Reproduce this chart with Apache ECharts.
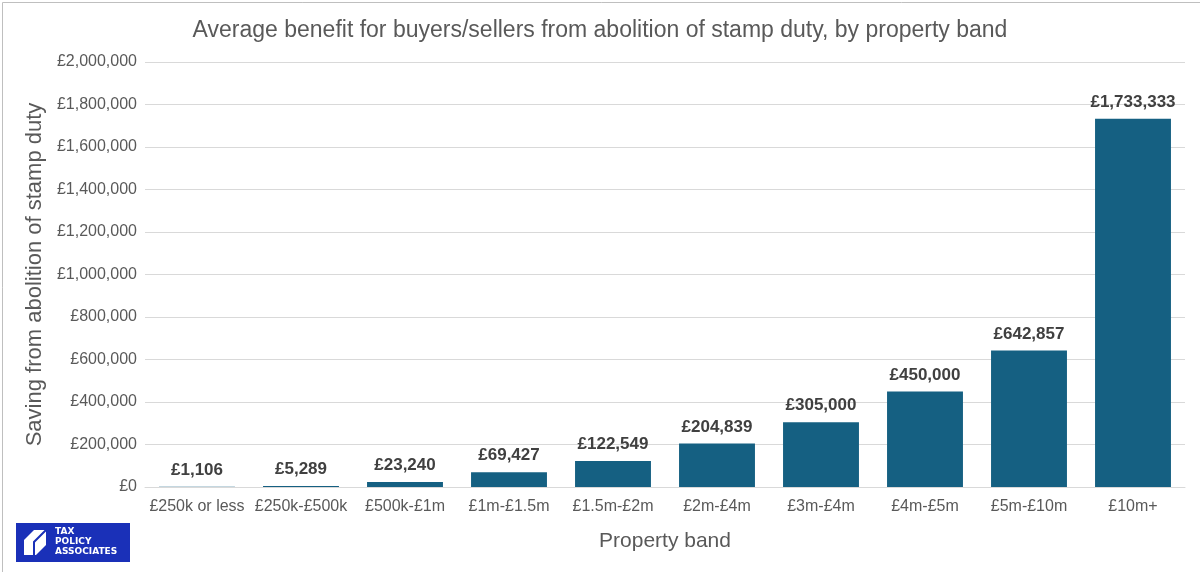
<!DOCTYPE html>
<html>
<head>
<meta charset="utf-8">
<script src="https://cdn.jsdelivr.net/npm/echarts@6/dist/echarts.min.js"></script>
<style>html,body{margin:0;padding:0;background:#fff}#chart{width:1200px;height:572px}</style>
</head>
<body>
<div id="chart"></div>
<script>
// 各房产区间的平均节省金额
var bands = ['£250k or less', '£250k-£500k', '£500k-£1m', '£1m-£1.5m', '£1.5m-£2m', '£2m-£4m', '£3m-£4m', '£4m-£5m', '£5m-£10m', '£10m+'];
var saving = [1106, 5289, 23240, 69427, 122549, 204839, 305000, 450000, 642857, 1733333];

function gbp(v) {
    return '£' + v.toString().replace(/\B(?=(\d{3})+(?!\d))/g, ',');
}

var chart = echarts.init(document.getElementById('chart'));
chart.setOption({
    animation: false,
    textStyle: { fontFamily: 'Liberation Sans, Arial, sans-serif' },
    title: {
        text: 'Average benefit for buyers/sellers from abolition of stamp duty, by property band',
        left: 'center', top: 14,
        textStyle: { fontSize: 23, fontWeight: 'normal', color: '#595959' }
    },
    grid: { left: 145, right: 15, top: 62, bottom: 85 },
    xAxis: {
        type: 'category',
        data: bands,
        name: 'Property band',
        nameLocation: 'middle',
        nameGap: 44,
        nameTextStyle: { fontSize: 21, color: '#595959' },
        axisTick: { show: false },
        axisLine: { lineStyle: { color: '#d9d9d9' } },
        axisLabel: { fontSize: 16, color: '#595959', interval: 0, margin: 12 }
    },
    yAxis: {
        type: 'value',
        min: 0, max: 2000000, interval: 200000,
        name: 'Saving from abolition of stamp duty',
        nameLocation: 'middle',
        nameGap: 97,
        nameTextStyle: { fontSize: 22, color: '#595959' },
        splitLine: { lineStyle: { color: '#d9d9d9' } },
        axisLabel: { fontSize: 16, color: '#595959', formatter: gbp }
    },
    series: [{
        type: 'bar',
        data: saving,
        barWidth: '73%',
        itemStyle: { color: '#156082' },
        label: {
            show: true, position: 'top', distance: 8,
            fontSize: 17, fontWeight: 'bold', color: '#404040',
            formatter: function (p) { return gbp(p.value); }
        }
    }],
    graphic: [
        { type: 'rect', left: 0, top: 0, shape: { width: 1199, height: 571 }, style: { fill: 'none', stroke: '#bfbfbf', lineWidth: 1 } },
        { type: 'rect', left: 16, top: 523, shape: { width: 114, height: 39 }, style: { fill: '#1a30b8' } },
        { type: 'polygon', shape: { points: [[24, 555], [24, 540], [34, 530], [46, 530], [46, 545], [36, 555]] }, style: { fill: '#fff' } },
        { type: 'polyline', shape: { points: [[34, 555], [34, 542], [46, 530]] }, style: { stroke: '#1a30b8', lineWidth: 2, fill: 'none' } },
        { type: 'text', left: 55, top: 527, style: { text: 'TAX\nPOLICY\nASSOCIATES', fill: '#fff', font: 'bold 9px DejaVu Sans', lineHeight: 10 } }
    ]
});
</script>
</body>
</html>
